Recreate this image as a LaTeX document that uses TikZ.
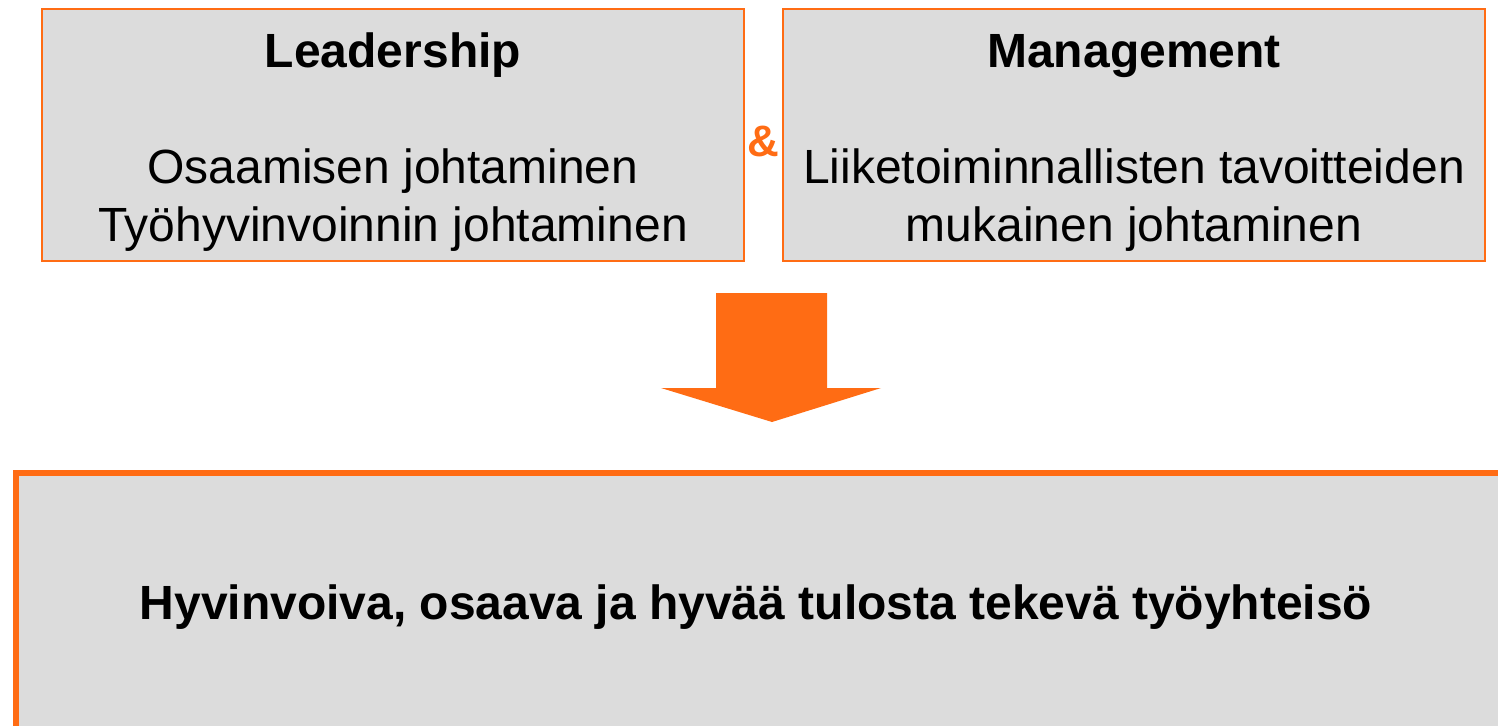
\documentclass[tikz,border=0pt]{standalone}
\usepackage{fontspec}
\setmainfont{Liberation Sans}
\usetikzlibrary{shapes.geometric, arrows}
\definecolor{boxOrange}{RGB}{255,108,20}
\definecolor{boxGray}{RGB}{220,220,220}
\tikzstyle{grayBox} = [shape=rectangle, draw=boxOrange, fill=boxGray, text=black,
	align=center]
\tikzstyle{TopBox} = [grayBox, line width=2pt, minimum width=702pt, minimum height=252pt,
	font=\fontsize{48}{58}\selectfont]
\tikzstyle{GoalBox} = [grayBox, line width=6pt, minimum width=1492pt, minimum height=268pt,
	font=\bfseries\fontsize{48}{58}\selectfont]
\tikzstyle{AndSign} = [text=boxOrange, font=\bfseries\fontsize{44}{52}\selectfont]
\newcommand{\topgap}{\rule{0pt}{49pt}}

\begin{document}
\begin{tikzpicture}[x=1pt, y=-1pt, node distance=741pt]
  \useasboundingbox (0,0) rectangle (1498,725);
  \clip (0,0) rectangle (1498,725);

  \node (LEAD) [TopBox] at (393,135) {\topgap\textbf{Leadership}\\[58pt]Osaamisen johtaminen\\Työhyvinvoinnin johtaminen};
  \node (MAN) [TopBox, right of=LEAD] {\topgap\textbf{Management}\\[58pt]Liiketoiminnallisten tavoitteiden\\mukainen johtaminen};
  \node (AND) [AndSign] at (763,141) {\&};

  % orange block arrow
  \fill[boxOrange] (716,293) -- (827,293) -- (827,388) -- (881,388) -- (772,422)
    -- (661,388) -- (716,388) -- cycle;

  \node (GOAL) [GoalBox, anchor=north west] at (13,470) {Hyvinvoiva, osaava ja hyvää tulosta tekevä työyhteisö\hspace*{12pt}};

\end{tikzpicture}
\end{document}
